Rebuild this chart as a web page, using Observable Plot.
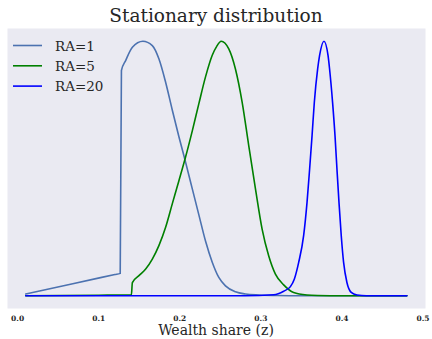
<!DOCTYPE html>
<html>
<head>
<meta charset="utf-8">
<script src="https://cdn.jsdelivr.net/npm/d3@7"></script>
<script src="https://cdn.jsdelivr.net/npm/@observablehq/plot@0.6"></script>
<style>
  html, body { margin: 0; padding: 0; background: #ffffff; }
  #chart svg { display: block; }
</style>
</head>
<body>
<div id="chart"></div>
<script>
// ---- data (densities normalised to peak 1) ----
const seriesNames = ["RA=1", "RA=5", "RA=20"];
const seriesColors = ["#4C72B0", "#008000", "#0000FF"];

const zRA1 = [0.01, 0.068, 0.12, 0.1265, 0.1280, 0.1332, 0.1415, 0.1545, 0.1661, 0.1742, 0.1825, 0.1907, 0.1989, 0.2071, 0.2154, 0.2235, 0.2317, 0.2400, 0.2481, 0.2563, 0.2686, 0.2810, 0.2973, 0.32, 0.35, 0.40, 0.48];
const dRA1 = [0.007, 0.0475, 0.0835, 0.088, 0.885, 0.924, 0.976, 1.0, 0.983, 0.931, 0.839, 0.730, 0.625, 0.525, 0.420, 0.318, 0.215, 0.132, 0.072, 0.039, 0.016, 0.007, 0.003, 0.001, 0, 0, 0];

const zRA5 = [0.01, 0.10, 0.1403, 0.1415, 0.1496, 0.1579, 0.1661, 0.1742, 0.1825, 0.1907, 0.1989, 0.2071, 0.2154, 0.2235, 0.2317, 0.2400, 0.2455, 0.2510, 0.2604, 0.2686, 0.2769, 0.2850, 0.2933, 0.3015, 0.3096, 0.3179, 0.3281, 0.3404, 0.3569, 0.3700, 0.40, 0.48];
const dRA5 = [0, 0.002, 0.004, 0.052, 0.079, 0.105, 0.144, 0.197, 0.269, 0.361, 0.452, 0.545, 0.648, 0.755, 0.860, 0.945, 0.980, 1.0, 0.970, 0.891, 0.760, 0.590, 0.420, 0.262, 0.157, 0.085, 0.043, 0.013, 0.003, 0.001, 0, 0];

const zRA20 = [0.01, 0.28, 0.3158, 0.3281, 0.3364, 0.3413, 0.3466, 0.3527, 0.3569, 0.3601, 0.3631, 0.3659, 0.3700, 0.3724, 0.3778, 0.3828, 0.3847, 0.3884, 0.3914, 0.3938, 0.3963, 0.3991, 0.4020, 0.4061, 0.4114, 0.4185, 0.43, 0.48];
const dRA20 = [0, 0, 0.004, 0.018, 0.036, 0.066, 0.131, 0.236, 0.367, 0.498, 0.629, 0.760, 0.891, 0.944, 1.0, 0.944, 0.891, 0.760, 0.629, 0.498, 0.367, 0.236, 0.131, 0.052, 0.013, 0.003, 0, 0];

const xTicks = [0.0, 0.1, 0.2, 0.3, 0.4, 0.5];
const xTickLabels = ["0.0", "0.1", "0.2", "0.3", "0.4", "0.5"];
const titleText = "Stationary distribution";
const xLabelText = "Wealth share (z)";

// ---- build table ----
const zs = [zRA1, zRA5, zRA20];
const ds = [dRA1, dRA5, dRA20];
const rows = [];
seriesNames.forEach((name, i) => {
  zs[i].forEach((z, j) => rows.push({series: name, z, d: ds[i][j]}));
});

const W = 432, H = 339;
const FONT = "'DejaVu Serif', serif";
const TEXT = "#262626";

const plot = Plot.plot({
  width: W,
  height: H,
  marginLeft: 7,
  marginRight: 7,
  marginTop: 28,
  marginBottom: 31,
  style: {fontFamily: FONT, background: "#ffffff", color: TEXT},
  x: {domain: [-0.0125, 0.503], label: null},
  y: {domain: [-0.05, 1.05], axis: null},
  color: {domain: seriesNames, range: seriesColors},
  marks: [
    Plot.frame({fill: "#EAEAF2", stroke: null}),
    ...seriesNames.map(name => Plot.line(rows.filter(r => r.series === name), {
      x: "z", y: "d", stroke: "series", strokeWidth: 1.6, curve: "monotone-x"
    })),
    Plot.axisX({
      ticks: xTicks,
      tickFormat: (d) => xTickLabels[xTicks.indexOf(d)],
      tickSize: 0,
      tickPadding: 7,
      fontSize: 7.5,
      fontWeight: "bold",
      label: null
    })
  ]
});

document.getElementById("chart").appendChild(plot);

const svg = d3.select(plot);
// title
svg.append("text")
  .attr("x", W / 2).attr("y", 22)
  .attr("text-anchor", "middle")
  .attr("font-family", FONT).attr("font-size", 18.5)
  .attr("fill", TEXT)
  .text(titleText);
// x label
svg.append("text")
  .attr("x", W / 2).attr("y", 335)
  .attr("text-anchor", "middle")
  .attr("font-family", FONT).attr("font-size", 14)
  .attr("fill", TEXT)
  .text(xLabelText);
// legend
const leg = svg.append("g");
seriesNames.forEach((name, i) => {
  const y = 45.5 + i * 20.3;
  leg.append("line")
    .attr("x1", 13).attr("x2", 42).attr("y1", y).attr("y2", y)
    .attr("stroke", seriesColors[i]).attr("stroke-width", 1.6);
  leg.append("text")
    .attr("x", 55).attr("y", y + 5)
    .attr("text-anchor", "start")
    .attr("font-family", FONT).attr("font-size", 13.5)
    .attr("fill", TEXT)
    .text(name);
});
</script>
</body>
</html>
